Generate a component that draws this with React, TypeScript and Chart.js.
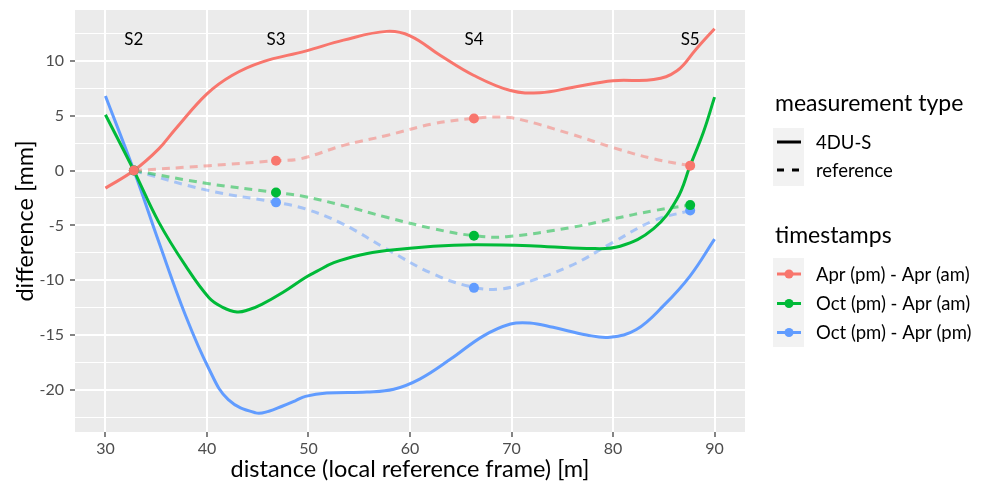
import React, { useEffect, useRef } from "react";
import { Chart, registerables } from "chart.js";

Chart.register(...registerables);

// ---------- data ----------
const xTickValues = [30, 40, 50, 60, 70, 80, 90];
const yMajorTicks = [-20, -15, -10, -5, 0, 5, 10];
const yMinorTicks = [-22.5, -17.5, -12.5, -7.5, -2.5, 2.5, 7.5, 12.5];

const stationLabels = ["S2", "S3", "S4", "S5"];
const stationX = [32.8, 46.8, 66.3, 87.6];
const stationLabelY = 12;

const seriesNames = ["Apr (pm) - Apr (am)", "Oct (pm) - Apr (am)", "Oct (pm) - Apr (pm)"];
const measurementNames = ["4DU-S", "reference"];

// reference measurements at stations
const refRed = [0, 0.9, 4.75, 0.45];
const refGreen = [0, -2.0, -5.95, -3.15];
const refBlue = [0, -2.9, -10.7, -3.65];

// dashed reference curves (traced)
const redRefX = [32.8, 40.2, 46.8, 49.2, 53.45, 57.7, 62.3, 66.3, 68.9, 70.9, 75.8, 80, 84, 87.6];
const redRefY = [0, 0.45, 0.9, 1.07, 2.3, 3.2, 4.27, 4.76, 4.88, 4.65, 3.35, 2.1, 1.07, 0.45];
const greenRefX = [32.8, 40.2, 46.8, 49.2, 53.45, 57.7, 62.3, 66.3, 69.5, 75.8, 80, 84, 87.6];
const greenRefY = [0, -1.2, -2.0, -2.3, -3.2, -4.26, -5.3, -5.94, -6.03, -5.2, -4.4, -3.66, -3.15];
const blueRefX = [32.8, 40.2, 46.8, 49.7, 53.45, 57.7, 62.3, 66.3, 68.9, 70.9, 75.8, 80, 84, 87.6];
const blueRefY = [0, -1.83, -2.9, -3.5, -4.9, -7.16, -9.44, -10.66, -10.8, -10.36, -8.7, -6.55, -4.57, -3.65];

// solid 4DU-S curves (traced)
const redX = [30, 32.8, 35.25, 36.9, 40, 42.5, 45.4, 49.7, 53.45, 57.7, 60, 63, 66.25, 69.9, 72.8, 76.1, 80, 84, 86.3, 88.2, 90];
const redY = [-1.6, 0, 1.98, 3.8, 7.0, 8.7, 9.9, 10.9, 11.9, 12.7, 12.3, 10.5, 8.7, 7.3, 7.1, 7.6, 8.2, 8.3, 9.1, 11.1, 12.95];
const greenX = [30, 32.8, 35.25, 37.9, 40.2, 41.5, 42.96, 44.1, 45.4, 47.5, 49.7, 50.8, 52.5, 55.1, 57.7, 62.3, 66.25, 71.8, 77.4, 80.7, 84, 86.3, 87.6, 88.9, 90];
const greenY = [5.09, 0, -4.7, -8.7, -11.6, -12.45, -12.9, -12.7, -12.2, -11.1, -9.75, -9.2, -8.4, -7.7, -7.3, -6.9, -6.76, -6.85, -7.1, -6.9, -5.3, -2.6, 0.46, 3.5, 6.7];
const blueX = [30, 32.8, 35.25, 37.9, 40.2, 42.1, 44.8, 46.1, 47.4, 48.7, 49.7, 51.8, 55.75, 58.4, 61, 64, 67.2, 69.9, 71.8, 74.1, 77.4, 79.7, 82.3, 85, 87.6, 90];
const blueY = [6.8, 0, -6.5, -13.25, -18.1, -20.9, -22.1, -21.95, -21.5, -21.0, -20.6, -20.3, -20.2, -19.95, -19.0, -17.2, -15.1, -14.0, -13.9, -14.3, -15.0, -15.2, -14.5, -12.3, -9.6, -6.25];

// ---------- styles ----------
const COLORS = ["#F8766D", "#00BA38", "#619CFF"];
const COLORS_ALPHA = ["rgba(248,118,109,0.5)", "rgba(0,186,56,0.5)", "rgba(97,156,255,0.5)"];
const FONT = "Lato, 'Noto Sans', sans-serif";

const zip = (xs: number[], ys: number[]) => xs.map((x, i) => ({ x, y: ys[i] }));

export default function App() {
  const ref = useRef<HTMLCanvasElement | null>(null);

  useEffect(() => {
    if (!ref.current) return;

    const solidSets = [
      [redX, redY],
      [greenX, greenY],
      [blueX, blueY],
    ];
    const refSets = [
      [redRefX, redRefY],
      [greenRefX, greenRefY],
      [blueRefX, blueRefY],
    ];
    const pointSets = [refRed, refGreen, refBlue];

    const datasets: any[] = [];
    pointSets.forEach((vals, i) => {
      datasets.push({
        label: seriesNames[i] + " points",
        data: zip(stationX, vals),
        showLine: false,
        pointRadius: 5,
        pointBackgroundColor: COLORS[i],
        pointBorderWidth: 0,
        borderColor: COLORS[i],
        order: 1,
      });
    });
    solidSets.forEach(([xs, ys], i) => {
      datasets.push({
        label: seriesNames[i] + " 4DU-S",
        data: zip(xs, ys),
        borderColor: COLORS[i],
        borderWidth: 3,
        pointRadius: 0,
        tension: 0.4,
        order: 2,
      });
    });
    refSets.forEach(([xs, ys], i) => {
      datasets.push({
        label: seriesNames[i] + " reference",
        data: zip(xs, ys),
        borderColor: COLORS_ALPHA[i],
        borderWidth: 3,
        borderDash: [8, 6],
        borderCapStyle: "butt",
        pointRadius: 0,
        tension: 0.4,
        order: 3,
      });
    });

    const bgPlugin = {
      id: "panelBg",
      beforeDraw(chart: any) {
        const { ctx, chartArea } = chart;
        ctx.save();
        ctx.fillStyle = "#FFFFFF";
        ctx.fillRect(0, 0, chart.width, chart.height);
        ctx.fillStyle = "#EBEBEB";
        ctx.fillRect(chartArea.left, chartArea.top, chartArea.right - chartArea.left, chartArea.bottom - chartArea.top);
        ctx.restore();
      },
    };

    const overlayPlugin = {
      id: "overlay",
      afterDraw(chart: any) {
        const { ctx } = chart;
        const xs = chart.scales.x;
        const ys = chart.scales.y;
        ctx.save();
        // station labels
        ctx.fillStyle = "#000000";
        ctx.font = `17px ${FONT}`;
        ctx.textAlign = "center";
        ctx.textBaseline = "middle";
        stationLabels.forEach((t, i) => {
          ctx.fillText(t, xs.getPixelForValue(stationX[i]), ys.getPixelForValue(stationLabelY));
        });

        // legend
        const lx = 775;
        ctx.textAlign = "left";
        ctx.font = `23px ${FONT}`;
        ctx.fillText("measurement type", lx, 104);
        ctx.fillText("timestamps", lx, 236);

        ctx.fillStyle = "#F2F2F2";
        ctx.fillRect(773, 128, 31, 58);
        ctx.fillRect(773, 258, 31, 89);

        ctx.font = `18.5px ${FONT}`;
        const mY = [142, 170];
        mY.forEach((y, i) => {
          ctx.strokeStyle = "#000000";
          ctx.lineWidth = 3;
          ctx.lineCap = "butt";
          ctx.setLineDash(i === 0 ? [] : [7, 8]);
          ctx.beginPath();
          ctx.moveTo(777, y);
          ctx.lineTo(801, y);
          ctx.stroke();
          ctx.setLineDash([]);
          ctx.fillStyle = "#000000";
          ctx.fillText(measurementNames[i], 816, y + 1);
        });

        const tY = [274, 303.5, 332.5];
        tY.forEach((y, i) => {
          ctx.strokeStyle = COLORS[i];
          ctx.lineWidth = 3;
          ctx.beginPath();
          ctx.moveTo(777, y);
          ctx.lineTo(801, y);
          ctx.stroke();
          ctx.fillStyle = COLORS[i];
          ctx.beginPath();
          ctx.arc(789, y, 4.5, 0, Math.PI * 2);
          ctx.fill();
          ctx.fillStyle = "#000000";
          ctx.fillText(seriesNames[i], 816, y + 1);
        });
        ctx.restore();
      },
    };

    const chart = new Chart(ref.current, {
      type: "line",
      data: { datasets },
      plugins: [bgPlugin, overlayPlugin],
      options: {
        animation: false,
        responsive: false,
        devicePixelRatio: 1,
        events: [],
        layout: { padding: { left: 0, top: 10, right: 237, bottom: 0 } },
        plugins: {
          legend: { display: false },
          tooltip: { enabled: false },
        },
        scales: {
          x: {
            type: "linear",
            min: 27,
            max: 93,
            afterBuildTicks: (s: any) => {
              s.ticks = xTickValues.map((v) => ({ value: v }));
            },
            afterFit: (s: any) => {
              s.height = 54;
              s.paddingLeft = 0;
              s.paddingRight = 0;
            },
            ticks: {
              autoSkip: false,
              maxRotation: 0,
              color: "#4D4D4D",
              font: { family: FONT, size: 16 },
              padding: 2,
              callback: (v: any) => String(v),
            },
            grid: {
              color: "#FFFFFF",
              lineWidth: 2,
              tickColor: "#333333",
              tickLength: 5,
              tickWidth: 1.2,
            },
            border: { display: false },
            title: {
              display: true,
              text: "distance (local reference frame) [m]",
              color: "#000000",
              font: { family: FONT, size: 23.5 },
              padding: { top: 0, bottom: 2 },
            },
          },
          y: {
            type: "linear",
            min: -23.85,
            max: 14.65,
            afterBuildTicks: (s: any) => {
              s.ticks = [...yMajorTicks, ...yMinorTicks].sort((a, b) => a - b).map((v) => ({ value: v }));
            },
            afterFit: (s: any) => {
              s.width = 75;
              s.paddingTop = 0;
              s.paddingBottom = 0;
            },
            ticks: {
              autoSkip: false,
              color: "#4D4D4D",
              font: { family: FONT, size: 16 },
              padding: 6,
              callback: (v: any) => (yMajorTicks.includes(Number(v)) ? String(v) : ""),
            },
            grid: {
              color: "#FFFFFF",
              lineWidth: (c: any) => (yMajorTicks.includes(c.tick?.value) ? 2 : 1),
              tickColor: (c: any) => (yMajorTicks.includes(c.tick?.value) ? "#333333" : "rgba(0,0,0,0)"),
              tickLength: 5,
              tickWidth: 1.2,
            },
            border: { display: false },
            title: {
              display: true,
              text: "difference [mm]",
              color: "#000000",
              font: { family: FONT, size: 23.5 },
              padding: { top: 11, bottom: 0 },
            },
          },
        },
      } as any,
    });

    return () => chart.destroy();
  }, []);

  return (
    <div style={{ position: "absolute", left: 0, top: 0, width: 982, height: 486 }}>
      <canvas ref={ref} width={982} height={486} style={{ width: 982, height: 486, display: "block" }} />
    </div>
  );
}
